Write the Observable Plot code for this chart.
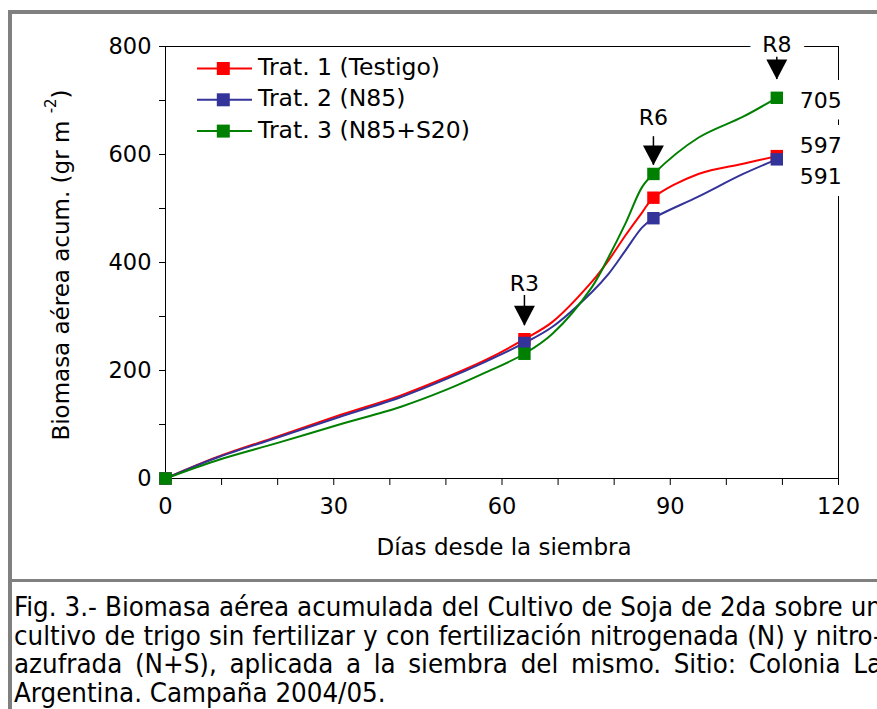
<!DOCTYPE html>
<html>
<head>
<meta charset="utf-8">
<script src="https://cdn.jsdelivr.net/npm/d3@7"></script>
<script src="https://cdn.jsdelivr.net/npm/@observablehq/plot@0.6"></script>
<style>
  html, body { margin: 0; padding: 0; background: #fff; }
  body { width: 877px; height: 709px; overflow: hidden; position: relative; }
  #frame { position: absolute; left: 8px; top: 10px; width: 980px; height: 800px; border: 4px solid #808080; box-sizing: border-box; }
  #sep { position: absolute; left: 8px; top: 579px; width: 980px; height: 3px; background: #808080; }
  #chart { position: absolute; left: 12px; top: 14px; }
  #chart svg { max-width: none !important; }
  #caption { position: absolute; left: 14px; top: 593px; font-family: "DejaVu Sans Condensed", "DejaVu Sans", sans-serif; font-size: 27.4px; line-height: 28.5px; white-space: nowrap; color: #000; }
  #caption .j { width: 868px; text-align: justify; text-align-last: justify; }
</style>
</head>
<body>
<div id="frame"></div>
<div id="sep"></div>
<div id="chart"></div>
<div id="caption"></div>
<script>
// ---- data ----
const days   = [0, 9, 20, 31, 42, 50, 57, 64, 69, 76, 79, 82, 85, 87, 95, 103, 109];
const trat1  = [0, 39, 78, 117, 154, 187, 219, 258, 290, 364, 404, 450, 493, 520, 564, 583, 597];
const trat2  = [0, 38, 76, 114, 151, 184, 216, 251, 281, 345, 379, 422, 465, 482, 522, 564, 591];
const trat3  = [0, 33, 66, 100, 133, 164, 196, 231, 268, 354, 410, 472, 540, 564, 631, 670, 705];
const seriesNames  = ["Trat. 1 (Testigo)", "Trat. 2 (N85)", "Trat. 3 (N85+S20)"];
const seriesColors = ["#ff0000", "#333399", "#008000"];
const markerDays = [0, 64, 87, 109];

const stageNames   = ["R3", "R6", "R8"];
const stageDays    = [64, 87, 109];
const stageLabelY  = [361, 667, 802];
const stageArrowTop = [339, 633, 780];
const stageArrowTip = [283, 580, 739];

const endLabels   = ["705", "597", "591"];
const endLabelDay = [109, 109, 109];
const endLabelY   = [700, 615, 558];

const xTicks = d3.range(0, 121, 10);
const yTicks = d3.range(0, 801, 100);

const xTitle = "Días desde la siembra";
const yTitleMain = "Biomasa aérea acum. (gr m ";
const yTitleSup = "-2";
const yTitleEnd = ")";

const captionLines = [
  "Fig. 3.- Biomasa aérea acumulada del Cultivo de Soja de 2da sobre un",
  "cultivo de trigo sin fertilizar y con fertilización nitrogenada (N) y nitro-",
  "azufrada (N+S), aplicada a la siembra del mismo. Sitio: Colonia La",
  "Argentina. Campaña 2004/05."
];

// ---- build tables ----
const seriesValues = [trat1, trat2, trat3];
const table = [];
seriesValues.forEach((vals, i) => {
  days.forEach((d, j) => table.push({series: seriesNames[i], day: d, value: vals[j]}));
});
const markers = table.filter(r => markerDays.includes(r.day));
const stages = stageNames.map((s, i) => ({stage: s, day: stageDays[i], labelY: stageLabelY[i], top: stageArrowTop[i], tip: stageArrowTip[i]}));
const ends = endLabels.map((t, i) => ({text: t, day: endLabelDay[i], y: endLabelY[i]}));

const arrowHead = {
  draw(context, size) {
    const w = Math.sqrt(size);
    const h = w * 0.95;
    context.moveTo(0, 0);
    context.lineTo(-w / 2, -h);
    context.lineTo(w / 2, -h);
    context.closePath();
  }
};

const W = 865, H = 565;
const mL = 153, mT = 32, mB = 101;
const mR = W - (838 - 12);

const chart = Plot.plot({
  width: W, height: H,
  marginLeft: mL, marginRight: mR, marginTop: mT, marginBottom: mB,
  style: {fontFamily: "DejaVu Sans", fontSize: "22.5px", background: "transparent", overflow: "visible", maxWidth: "none"},
  x: {domain: [0, 120]},
  y: {domain: [0, 800]},
  color: {domain: seriesNames, range: seriesColors},
  marks: [
    Plot.frame({stroke: "black", strokeWidth: 1}),
    Plot.axisX({ticks: xTicks, tickFormat: d => d % 30 === 0 ? d : "", tickSize: 7, tickPadding: 13, label: null, fontSize: 22.5}),
    Plot.axisY({ticks: yTicks, tickFormat: d => d % 200 === 0 ? d : "", tickSize: 6, tickPadding: 8, label: null, fontSize: 22.5}),
    // halos that break the frame behind labels
    Plot.text(stages, {x: "day", y: "labelY", text: "stage", fontSize: 22, fill: "white", stroke: "white", strokeWidth: 28}),
    Plot.text(ends, {x: "day", y: "y", text: "text", dx: 23, textAnchor: "start", fontSize: 22, fill: "white", stroke: "white", strokeWidth: 24}),
    Plot.line(table, {x: "day", y: "value", z: "series", stroke: "series", strokeWidth: 2, curve: "catmull-rom"}),
    Plot.dot(markers, {x: "day", y: "value", fill: "series", symbol: "square", r: 7}),
    Plot.text(stages, {x: "day", y: "labelY", text: "stage", fontSize: 22, fill: "black"}),
    Plot.text(ends, {x: "day", y: "y", text: "text", dx: 23, textAnchor: "start", fontSize: 22, fill: "black"}),
    Plot.ruleX(stages, {x: "day", y1: "top", y2: "tip", stroke: "black", strokeWidth: 1.5}),
    Plot.dot(stages, {x: "day", y: "tip", symbol: arrowHead, r: 11.8, fill: "black", stroke: "none"})
  ]
});
document.getElementById("chart").appendChild(chart);

// axis titles & legend
const svg = d3.select(chart);
svg.append("text")
  .attr("x", 492).attr("y", 534).attr("text-anchor", "middle").attr("dominant-baseline", "middle")
  .attr("font-size", 23).attr("fill", "black")
  .text(xTitle);

const yt = svg.append("text")
  .attr("transform", "translate(50,251) rotate(-90)")
  .attr("text-anchor", "middle").attr("dominant-baseline", "middle")
  .attr("font-size", 23).attr("fill", "black");
yt.append("tspan").text(yTitleMain);
yt.append("tspan").attr("dy", -11).attr("font-size", 15).text(yTitleSup);
yt.append("tspan").attr("dy", 11).text(yTitleEnd);

const leg = svg.append("g").attr("text-anchor", "start");
seriesNames.forEach((name, i) => {
  const cy = 54.5 + i * 31.3;
  leg.append("line").attr("x1", 185).attr("x2", 240).attr("y1", cy).attr("y2", cy)
    .attr("stroke", seriesColors[i]).attr("stroke-width", 2);
  leg.append("rect").attr("x", 211.3 - 6.5).attr("y", cy - 6.5).attr("width", 13).attr("height", 13)
    .attr("fill", seriesColors[i]);
  leg.append("text").attr("x", 246).attr("y", cy).attr("dominant-baseline", "middle")
    .attr("text-anchor", "start")
    .attr("font-size", 23.5).attr("fill", "black").text(name);
});

// caption
const cap = document.getElementById("caption");
captionLines.forEach((l, i) => {
  const d = document.createElement("div");
  d.textContent = l;
  if (i < captionLines.length - 1) d.className = "j";
  cap.appendChild(d);
});
</script>
</body>
</html>
